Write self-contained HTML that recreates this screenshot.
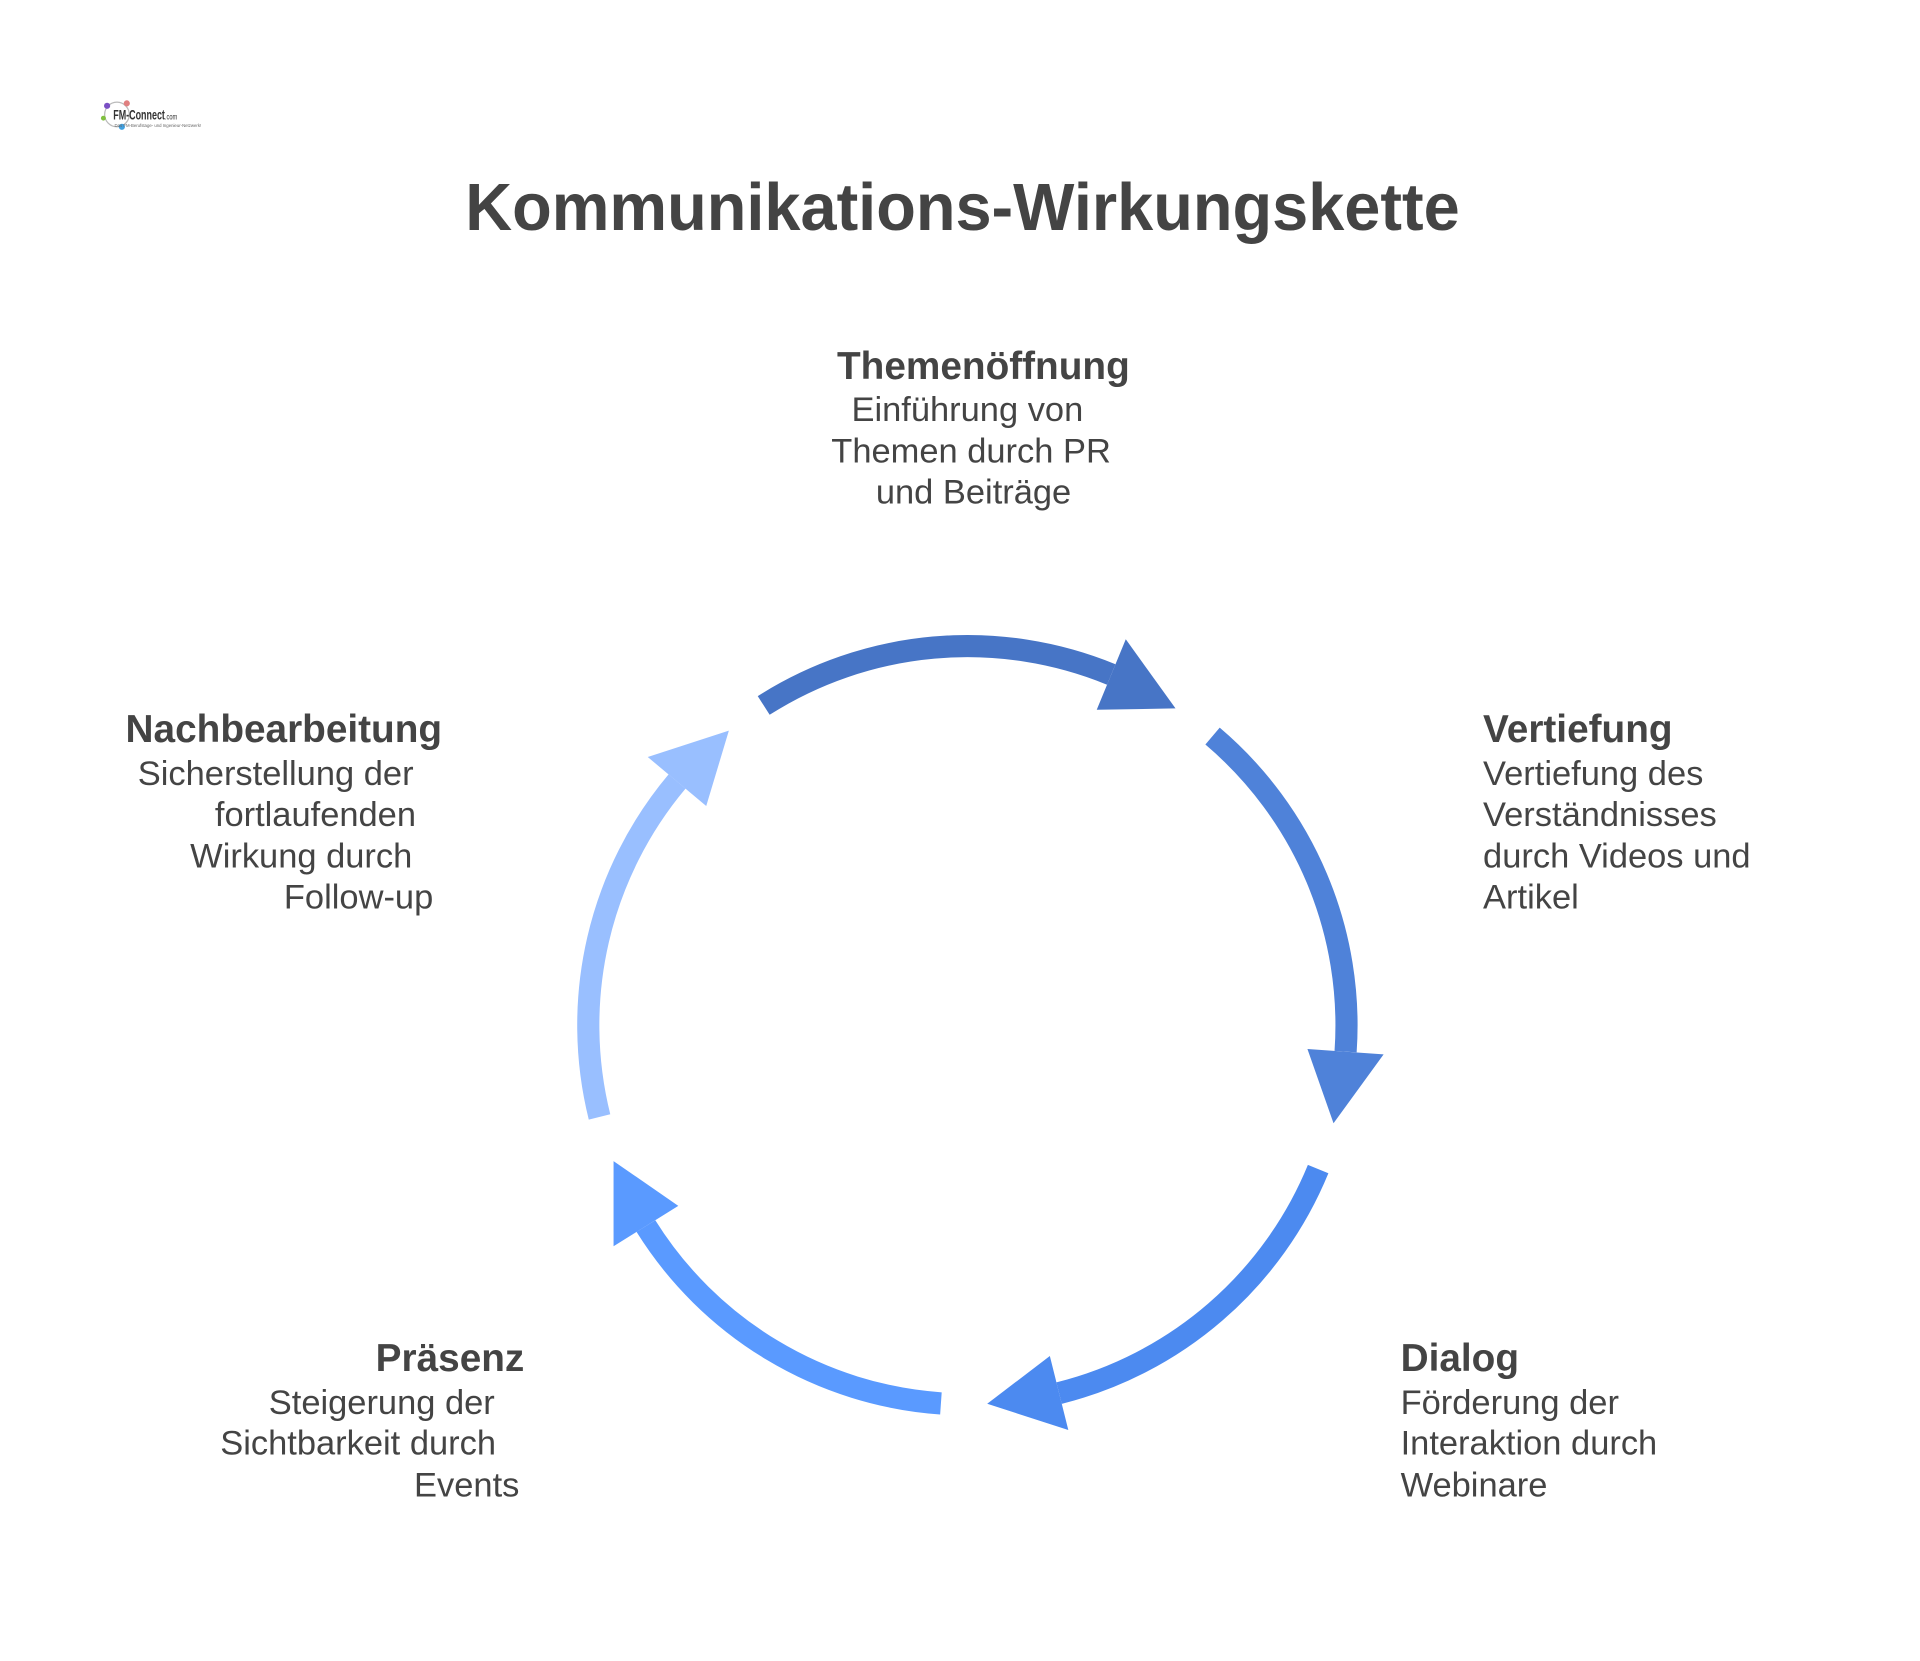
<!DOCTYPE html>
<html><head><meta charset="utf-8"><style>
html,body{margin:0;padding:0;background:#fff;}
svg{display:block;}
text{font-family:"Liberation Sans",Arial,sans-serif;fill:#444;}
.h{font-weight:bold;font-size:31.5px;}
.b{font-size:28px;}
</style></head><body>
<svg width="1920" height="1661" viewBox="0 0 1560 1349.6" xmlns="http://www.w3.org/2000/svg">
<rect width="1560" height="1349.6" fill="#fff"/>
<g>
<circle cx="95" cy="93" r="10" fill="none" stroke="#bbb" stroke-width="1"/>
<circle cx="87" cy="86" r="2.5" fill="#7a4fc4"/>
<circle cx="103" cy="84" r="2.5" fill="#e08080"/>
<circle cx="99" cy="103" r="2.5" fill="#40a0e0"/>
<circle cx="84" cy="96" r="2" fill="#80c040"/>
<text x="92" y="97" textLength="52" lengthAdjust="spacingAndGlyphs" style="font-size:11px;font-weight:bold;fill:#333">FM-Connect<tspan style="font-size:7px;font-weight:normal">.com</tspan></text>
<text x="93" y="103" style="font-size:3.5px;fill:#666">Das FM-Berufstage- und Ingenieur-Netzwerk!</text>
</g>
<text x="782" y="187" text-anchor="middle" textLength="808" lengthAdjust="spacingAndGlyphs" style="font-weight:bold;font-size:54px;fill:#444">Kommunikations-Wirkungskette</text>

<g transform="translate(-3,-3)">
<g fill="none" stroke-width="18">
<path d="M623.5 576.2 A308 308 0 0 1 905.9 551.0" stroke="#4775c6"/>
<path d="M988.2 601.1 A308 308 0 0 1 1096.3 857.5" stroke="#4f82d9"/>
<path d="M1074.0 952.9 A308 308 0 0 1 863.5 1134.9" stroke="#4c8af0"/>
<path d="M767.5 1143.3 A308 308 0 0 1 527.8 999.2" stroke="#5a9aff"/>
<path d="M490.1 910.5 A308 308 0 0 1 553.1 638.0" stroke="#99bfff"/>
</g>
<polygon points="894.1,579.7 917.7,522.4 958.1,578.6" fill="#4775c6"/>
<polygon points="1065.3,855.3 1127.2,859.7 1086.5,915.7" fill="#4f82d9"/>
<polygon points="856.0,1104.8 871.0,1164.9 805.1,1143.6" fill="#4c8af0"/>
<polygon points="554.1,982.8 501.5,1015.6 501.5,946.4" fill="#5a9aff"/>
<polygon points="576.8,657.9 529.3,618.1 595.2,596.7" fill="#99bfff"/>
</g>

<text class="h" x="799" y="308" text-anchor="middle">Themenöffnung</text>
<text class="b" x="786" y="342" text-anchor="middle">Einführung von</text>
<text class="b" x="789" y="376" text-anchor="middle">Themen durch PR</text>
<text class="b" x="791" y="409" text-anchor="middle">und Beiträge</text>

<text class="h" x="1205" y="603">Vertiefung</text>
<text class="b" x="1205" y="638">Vertiefung des</text>
<text class="b" x="1205" y="671">Verständnisses</text>
<text class="b" x="1205" y="705">durch Videos und</text>
<text class="b" x="1205" y="738">Artikel</text>

<text class="h" x="1138" y="1114">Dialog</text>
<text class="b" x="1138" y="1149">Förderung der</text>
<text class="b" x="1138" y="1182">Interaktion durch</text>
<text class="b" x="1138" y="1216">Webinare</text>

<text class="h" x="426" y="1114" text-anchor="end">Präsenz</text>
<text class="b" x="402" y="1149" text-anchor="end">Steigerung der</text>
<text class="b" x="403" y="1182" text-anchor="end">Sichtbarkeit durch</text>
<text class="b" x="422" y="1216" text-anchor="end">Events</text>

<text class="h" x="102" y="603">Nachbearbeitung</text>
<text class="b" x="336" y="638" text-anchor="end">Sicherstellung der</text>
<text class="b" x="338" y="671" text-anchor="end">fortlaufenden</text>
<text class="b" x="335" y="705" text-anchor="end">Wirkung durch</text>
<text class="b" x="352" y="738" text-anchor="end">Follow-up</text>
</svg>
</body></html>
